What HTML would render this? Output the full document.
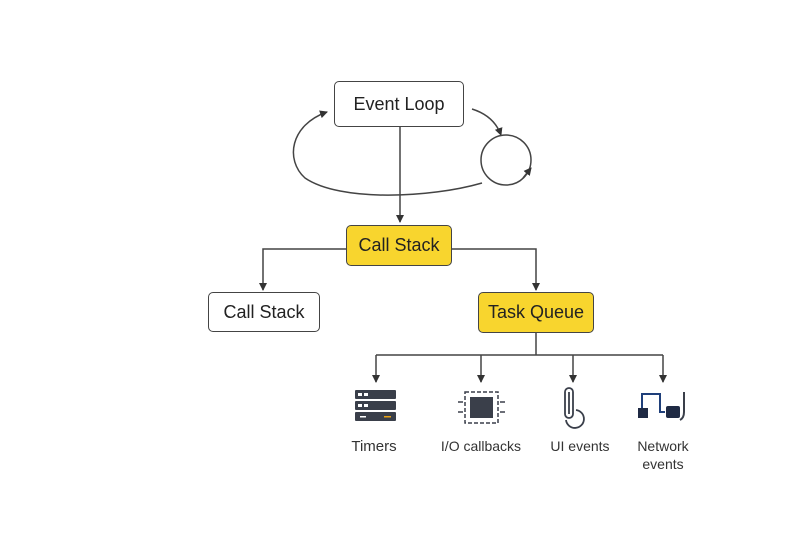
<!DOCTYPE html>
<html><head><style>
body{margin:0;width:800px;height:533px;background:#fff;overflow:hidden;font-family:"Liberation Sans","DejaVu Sans",sans-serif}
.b{position:absolute;box-sizing:border-box;border:1.5px solid #444;border-radius:5px;display:flex;align-items:center;justify-content:center;font-size:18px;color:#222;background:#fff}
.y{background:#f8d52e;border-color:#444}
.l{position:absolute;font-size:14px;color:#333;text-align:center;width:100px;line-height:18px}
</style></head><body>
<svg width="800" height="533" style="position:absolute;left:0;top:0">
<defs><marker id="a" markerWidth="8" markerHeight="8" refX="7" refY="4" orient="auto" markerUnits="userSpaceOnUse"><path d="M0,0 L8,4 L0,8z" fill="#333"/></marker></defs>
<g stroke="#444" stroke-width="1.5" fill="none">
<line x1="400" y1="127" x2="400" y2="222" marker-end="url(#a)"/>
<path d="M482,183 C430,198 340,202 305,178 C285,160 290,125 327,112" marker-end="url(#a)"/>
<path d="M472,109 C488,114 497,124 501,135" marker-end="url(#a)"/>
<circle cx="506" cy="160" r="25"/>
<path d="M523,178 L531,168" marker-end="url(#a)"/>
<polyline points="346,249 263,249 263,290" marker-end="url(#a)"/>
<polyline points="452,249 536,249 536,290" marker-end="url(#a)"/>
<line x1="536" y1="333" x2="536" y2="355"/>
<line x1="376" y1="355" x2="663" y2="355"/>
<line x1="376" y1="355" x2="376" y2="382" marker-end="url(#a)"/>
<line x1="481" y1="355" x2="481" y2="382" marker-end="url(#a)"/>
<line x1="573" y1="355" x2="573" y2="382" marker-end="url(#a)"/>
<line x1="663" y1="355" x2="663" y2="382" marker-end="url(#a)"/>
</g>
<g fill="#3a3f4a"><rect x="355" y="390" width="41" height="9" rx="1"/><rect x="355" y="401" width="41" height="9" rx="1"/><rect x="355" y="412" width="41" height="9" rx="1"/></g>
<g fill="#fff"><rect x="358" y="393" width="4" height="3"/><rect x="364" y="393" width="4" height="3"/><rect x="358" y="404" width="4" height="3"/><rect x="364" y="404" width="4" height="3"/><rect x="360" y="416" width="6" height="1.5"/></g>
<rect x="384" y="416" width="7" height="1.5" fill="#e8a317"/>
<rect x="465" y="392" width="33" height="31" fill="none" stroke="#3a3f4a" stroke-width="1.5" stroke-dasharray="4,2"/>
<rect x="470" y="397" width="23" height="21" fill="#3a3f4a"/>
<g stroke="#3a3f4a" stroke-width="1.5"><line x1="458" y1="402" x2="463" y2="402"/><line x1="458" y1="412" x2="463" y2="412"/><line x1="500" y1="402" x2="505" y2="402"/><line x1="500" y1="412" x2="505" y2="412"/></g>
<g fill="none" stroke="#3a3f4a" stroke-width="1.8"><rect x="565" y="388" width="8" height="30" rx="4"/><line x1="569" y1="392" x2="569" y2="414"/><path d="M576,410 A9,9 0 1 1 566,420"/></g>
<g fill="none" stroke-width="2"><path d="M642,410 V394 H660 V412 H665" stroke="#1f3f7a"/><path d="M684,392 V412 Q684,418 680,420" stroke="#3a3f4a"/></g>
<rect x="638" y="408" width="10" height="10" fill="#1f2a44"/><rect x="666" y="406" width="14" height="12" rx="2" fill="#1f2a44"/>
</svg>
<div class="b" style="left:334px;top:81px;width:130px;height:46px">Event Loop</div>
<div class="b y" style="left:346px;top:225px;width:106px;height:41px">Call Stack</div>
<div class="b" style="left:208px;top:292px;width:112px;height:40px">Call Stack</div>
<div class="b y" style="left:478px;top:292px;width:116px;height:41px">Task Queue</div>
<div class="l" style="left:324px;top:438px;font-size:15px">Timers</div>
<div class="l" style="left:431px;top:437px">I/O callbacks</div>
<div class="l" style="left:530px;top:437px">UI events</div>
<div class="l" style="left:613px;top:437px">Network<br>events</div>
</body></html>
